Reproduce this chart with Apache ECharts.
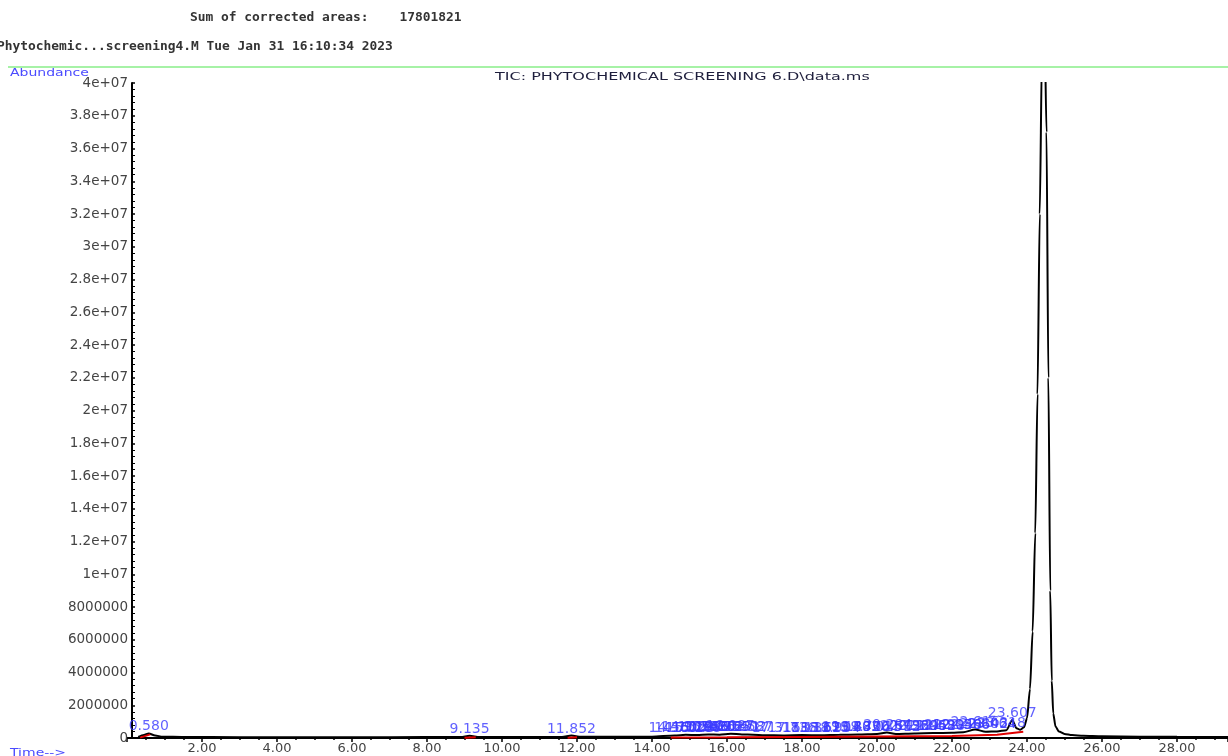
<!DOCTYPE html>
<html>
<head>
<meta charset="utf-8">
<script src="https://cdn.jsdelivr.net/npm/echarts@6/dist/echarts.min.js"></script>
<style>
html,body{margin:0;padding:0;background:#fff;}
#chart{width:1228px;height:756px;}
</style>
</head>
<body>
<div id="chart"></div>
<script>
// ---- texts ----
const headerLine1 = 'Sum of corrected areas:    17801821';
const headerLine2 = 'Phytochemic...screening4.M Tue Jan 31 16:10:34 2023';
const chartTitle = 'TIC: PHYTOCHEMICAL SCREENING 6.D\\data.ms';
const yAxisName = 'Abundance';
const xAxisName = 'Time-->';

// ---- chromatogram (retention time, min / abundance) ----
const rtTimes = [0.30, 0.45, 0.58, 0.75, 0.95, 1.5, 3.0, 5.0, 7.0, 8.9, 9.135, 9.4, 11.6, 11.852, 12.1,
  14.0, 14.6, 14.9, 15.2, 15.5, 15.8, 16.1, 16.4, 16.7, 17.0, 17.5, 18.0, 18.5, 19.0, 19.5, 20.0,
  20.264, 20.5, 21.0, 21.5, 22.0, 22.3, 22.616, 22.9, 23.2, 23.45, 23.607, 23.72, 23.82, 23.92,
  24.0, 24.08, 24.15, 24.22, 24.28, 24.34, 24.40, 24.46, 24.52, 24.57, 24.62, 24.66, 24.70, 24.76,
  24.85, 25.0, 25.2, 25.5, 26.0, 27.0, 28.0, 29.36];
const abundance = [60000, 180000, 280000, 150000, 80000, 60000, 50000, 50000, 50000, 60000, 140000, 60000, 60000, 150000, 70000,
  80000, 150000, 200000, 180000, 220000, 200000, 260000, 220000, 200000, 170000, 160000, 180000, 170000, 200000, 210000, 240000,
  330000, 250000, 280000, 300000, 320000, 350000, 520000, 380000, 400000, 480000, 1100000, 600000, 500000, 650000,
  1200000, 3000000, 6500000, 12500000, 21000000, 32000000, 42000000, 45000000, 37000000, 22000000, 9000000, 3500000, 1500000, 700000,
  400000, 250000, 180000, 130000, 100000, 80000, 70000, 60000];

// ---- integrated peaks (labels) ----
const peakRTs = [0.580, 9.135, 11.852, 14.560, 14.712, 14.905, 15.023, 15.188, 15.342, 15.477, 15.631, 15.802,
  15.955, 16.087, 16.231, 16.402, 16.587, 17.315, 17.736, 18.112, 18.367, 18.625, 18.904, 19.188, 19.433,
  19.706, 20.015, 20.284, 20.512, 20.736, 20.989, 21.204, 21.452, 21.688, 21.905, 22.148, 22.366, 22.616,
  22.842, 23.064, 23.318, 23.607];
const peakApex = [280000, 120000, 130000, 150000, 170000, 200000, 190000, 180000, 200000, 220000, 210000, 200000,
  230000, 260000, 240000, 220000, 200000, 170000, 160000, 180000, 175000, 170000, 190000, 200000, 210000,
  215000, 240000, 330000, 250000, 270000, 280000, 290000, 300000, 310000, 320000, 330000, 350000, 520000,
  380000, 400000, 450000, 1100000];

// ---- integration baseline (red) ----
const baseTimes = [0.35, 0.62, null, 9.0, 9.3, null, 11.75, 12.0, null, 14.5, 16.0, 18.0, 20.0, 22.0, 23.2, 23.9];
const baseValues = [20000, 220000, null, 20000, 40000, null, 20000, 40000, null, 30000, 40000, 60000, 90000, 120000, 200000, 380000];

// ---- axis ticks ----
const yTickValues = [0, 2000000, 4000000, 6000000, 8000000, 10000000, 12000000, 14000000, 16000000, 18000000, 20000000,
  22000000, 24000000, 26000000, 28000000, 30000000, 32000000, 34000000, 36000000, 38000000, 40000000];
const xTickValues = [2, 4, 6, 8, 10, 12, 14, 16, 18, 20, 22, 24, 26, 28];

function yFmt(v) {
  if (v === 0) return '0';
  if (v >= 10000000) return parseFloat((v / 1e7).toFixed(2)) + 'e+07';
  return String(Math.round(v));
}

function txt(x, y, s, font, fill, sx) {
  return {type: 'text', x: x, y: y, scaleX: sx, style: {text: s, fill: fill, font: font, verticalAlign: 'middle', align: 'left'}};
}

const chart = echarts.init(document.getElementById('chart'), null, {renderer: 'canvas'});
const option = {
  backgroundColor: '#fff',
  animation: false,
  grid: {left: 127, right: 0, top: 83, bottom: 18, containLabel: false},
  xAxis: {
    type: 'value', min: 0, max: 29.36, interval: 2,
    axisLine: {show: true, onZero: false, lineStyle: {color: '#000', width: 2}},
    axisTick: {show: true, length: 4, lineStyle: {color: '#000', width: 1.5}},
    minorTick: {show: true, splitNumber: 4, length: 2, lineStyle: {color: '#000', width: 1.5}},
    splitLine: {show: false},
    axisLabel: {
      showMinLabel: false, showMaxLabel: false, margin: 4,
      color: '#444', fontFamily: 'DejaVu Sans', fontSize: 13,
      formatter: function (v) { return xTickValues.indexOf(v) >= 0 ? v.toFixed(2) : ''; }
    }
  },
  yAxis: {
    type: 'value', min: 0, max: 40000000, interval: 2000000, offset: -5,
    axisLine: {show: true, lineStyle: {color: '#000', width: 2}},
    axisTick: {show: true, length: 3, inside: true, lineStyle: {color: '#000', width: 1.5}},
    minorTick: {show: true, splitNumber: 5, length: 3, lineStyle: {color: '#000', width: 1}},
    splitLine: {show: false},
    axisLabel: {
      margin: 4, color: '#444', fontFamily: 'DejaVu Sans', fontSize: 13.5,
      formatter: function (v) { return yTickValues.indexOf(v) >= 0 ? yFmt(v) : ''; }
    }
  },
  graphic: [
    txt(190, 18, headerLine1, 'bold 12.9px "DejaVu Sans Mono"', '#333', 1),
    txt(-3, 47, headerLine2, 'bold 12.9px "DejaVu Sans Mono"', '#333', 1),
    {type: 'line', shape: {x1: 8, y1: 67, x2: 1228, y2: 67}, style: {stroke: '#a6f2a6', lineWidth: 2}},
    txt(10, 73, yAxisName, '10px "DejaVu Sans"', '#4a4aff', 1.4),
    txt(495, 77, chartTitle, '10px "DejaVu Sans"', '#1e1e3c', 1.6),
    txt(10, 753, xAxisName, '10px "DejaVu Sans"', '#4a4aff', 1.4)
  ],
  series: [
    {
      name: 'TIC', type: 'line', clip: true, showSymbol: false, smooth: 0.25, smoothMonotone: 'x',
      lineStyle: {color: '#000', width: 2},
      data: rtTimes.map(function (t, i) { return [t, abundance[i]]; }),
      z: 3
    },
    {
      name: 'baseline', type: 'line', showSymbol: false, connectNulls: false,
      lineStyle: {color: '#e00000', width: 2},
      data: baseTimes.map(function (t, i) { return t === null ? [null, null] : [t, baseValues[i]]; }),
      z: 4
    },
    {
      name: 'peaks', type: 'scatter', symbolSize: 0, silent: true,
      data: peakRTs.map(function (t, i) { return [t, peakApex[i]]; }),
      label: {
        show: true, position: 'top', distance: 0,
        color: '#3a3aff', fontFamily: 'DejaVu Sans', fontSize: 14,
        formatter: function (p) { return p.value[0].toFixed(3); }
      },
      labelLayout: {hideOverlap: false},
      z: 5
    }
  ]
};
chart.setOption(option);
</script>
</body>
</html>
